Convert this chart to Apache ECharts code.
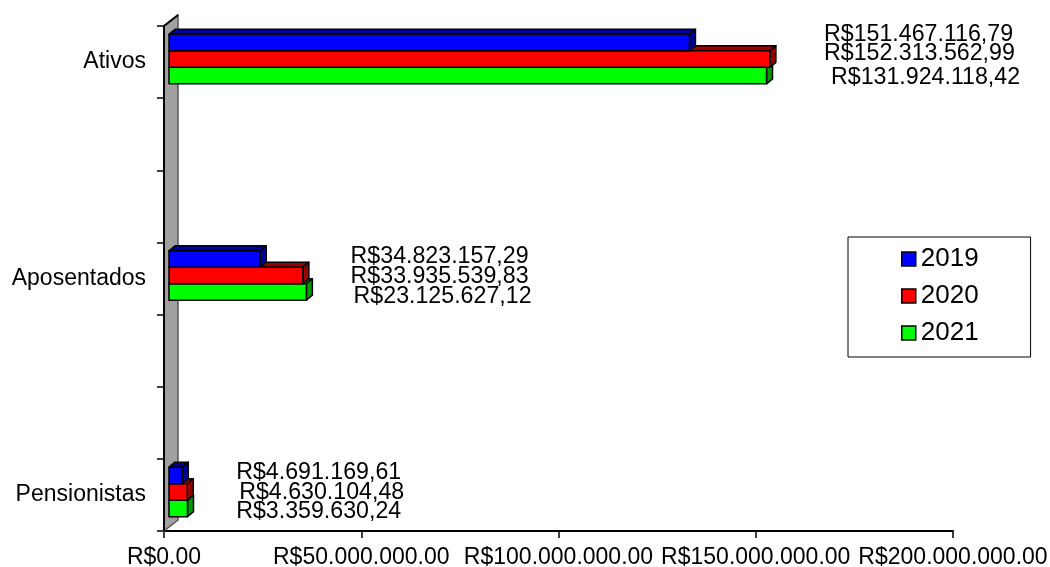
<!DOCTYPE html>
<html>
<head>
<meta charset="utf-8">
<script src="https://cdn.jsdelivr.net/npm/echarts@6/dist/echarts.min.js"></script>
<style>
  html, body { margin: 0; padding: 0; background: #fff; }
  #main { width: 1050px; height: 567px; }
</style>
</head>
<body>
<div id="main"></div>
<script>
const categories = ['Ativos', 'Aposentados', 'Pensionistas'];
const years = ['2019', '2020', '2021'];
// bar lengths as drawn in the source picture
const values2019 = [131924118.42, 23125627.12, 3359630.24];
const values2020 = [152313562.99, 33935539.83, 4630104.48];
const values2021 = [151467116.79, 34823157.29, 4691169.61];
const xMax = 200000000;
const xStep = 50000000;

const seriesValues = [values2019, values2020, values2021];
const colors = ['#0000ff', '#ff0000', '#00ff00'];
const shades = ['#000099', '#990000', '#009900'];
const FONT = '"Liberation Sans", Arial, sans-serif';

// each category sits on every third slot of a 7-slot category axis
const slots = [];
categories.forEach((c, i) => {
  slots.push(c);
  if (i < categories.length - 1) slots.push('', '');
});

// where the value labels start (axis units) and small per-row nudges in px
const labelStart = [167300000, 47300000, 18300000];
const labelNudge = [
  [[0, -27], [0, -8], [7, 16]],
  [[0, -22], [0, -2], [3, 18]],
  [[0, -22], [3, -2], [0, 17]]
];

function money(v, dec) {
  const parts = v.toFixed(2).split('.');
  const intPart = parts[0].replace(/\B(?=(\d{3})+(?!\d))/g, '.');
  return 'R$' + intPart + dec + parts[1];
}

const BAR_H = 16.5, DX = 6, DY = 5, OX = 5, OY = -3;

function barRenderer(s) {
  return function (params, api) {
    const v = api.value(0);
    const slot = api.value(1);
    const cat = api.value(2);
    const p0 = api.coord([0, slot]);
    const p1 = api.coord([v, slot]);
    const top = p0[1] - 1.5 * BAR_H + s * BAR_H + OY;
    const x0 = p0[0] + OX;
    const x1 = p1[0] + OX;
    const stroke = { stroke: '#000', lineWidth: 1.5, lineJoin: 'round' };
    // labels appear in reverse series order in the source
    const labelText = money(seriesValues[2 - s][cat], ',');
    const lx = api.coord([labelStart[cat], slot])[0] + labelNudge[cat][s][0];
    const ly = p0[1] + labelNudge[cat][s][1];
    return {
      type: 'group',
      children: [
        {
          type: 'polygon',
          shape: { points: [[x0, top], [x0 + DX, top - DY], [x1 + DX, top - DY], [x1, top]] },
          style: Object.assign({ fill: shades[s] }, stroke)
        },
        {
          type: 'polygon',
          shape: { points: [[x1, top], [x1 + DX, top - DY], [x1 + DX, top + BAR_H - DY], [x1, top + BAR_H]] },
          style: Object.assign({ fill: shades[s] }, stroke)
        },
        {
          type: 'rect',
          shape: { x: x0, y: top, width: x1 - x0, height: BAR_H },
          style: Object.assign({ fill: colors[s] }, stroke)
        },
        {
          type: 'text',
          style: {
            text: labelText, x: lx, y: ly,
            fill: '#000', fontSize: 23.2, fontFamily: FONT,
            align: 'left', verticalAlign: 'middle'
          }
        }
      ]
    };
  };
}

function wallRenderer(params, api) {
  const cs = params.coordSys;
  const x = cs.x, y = cs.y, h = cs.height;
  const dx = 14, dy = 11;
  return {
    type: 'group',
    children: [
      {
        type: 'polygon',
        shape: { points: [[x, y], [x + dx, y - dy], [x + dx, y + h - dy], [x, y + h]] },
        style: { fill: '#a0a0a0', stroke: '#555', lineWidth: 1.5 }
      },
      {
        type: 'polyline',
        shape: { points: [[x + dx, y - dy], [x, y], [x, y + h]] },
        style: { stroke: '#000', lineWidth: 2, fill: null }
      }
    ]
  };
}

const series = [{
  type: 'custom',
  name: 'wall',
  clip: false,
  silent: true,
  z: 1,
  renderItem: wallRenderer,
  data: [[0, 0]]
}];
years.forEach((y, s) => {
  series.push({
    type: 'custom',
    name: y,
    clip: false,
    z: 5 - s,
    itemStyle: { color: colors[s] },
    encode: { x: 0, y: 1 },
    renderItem: barRenderer(s),
    data: seriesValues[s].map((v, i) => [v, i * 3, i])
  });
});

const chart = echarts.init(document.getElementById('main'));
chart.setOption({
  animation: false,
  backgroundColor: '#fff',
  grid: { left: 164, right: 97, top: 26, bottom: 36, outerBoundsMode: 'none' },
  legend: {
    data: years,
    orient: 'vertical',
    left: 848,
    top: 237,
    padding: [9, 52, 11, 53],
    itemGap: 11,
    itemWidth: 14,
    itemHeight: 14,
    icon: 'rect',
    borderColor: '#000',
    borderWidth: 1,
    itemStyle: { borderColor: '#000', borderWidth: 1.5 },
    textStyle: { fontSize: 26, fontFamily: FONT, color: '#000', lineHeight: 25 }
  },
  xAxis: {
    type: 'value',
    min: 0,
    max: xMax,
    interval: xStep,
    axisLine: { show: true, lineStyle: { color: '#000', width: 2 } },
    axisTick: { show: true, length: 7, lineStyle: { color: '#000', width: 1.5 } },
    splitLine: { show: false },
    axisLabel: {
      formatter: v => money(v, '.'),
      fontSize: 23, fontFamily: FONT, color: '#000', margin: 15
    }
  },
  yAxis: {
    type: 'category',
    inverse: true,
    data: slots,
    boundaryGap: true,
    axisLine: { show: true, lineStyle: { color: '#000', width: 2 } },
    axisTick: { show: true, length: 7, interval: 0, lineStyle: { color: '#000', width: 1.5 } },
    axisLabel: { interval: 0, fontSize: 23, fontFamily: FONT, color: '#000', margin: 18 }
  },
  series: series
});
</script>
</body>
</html>
